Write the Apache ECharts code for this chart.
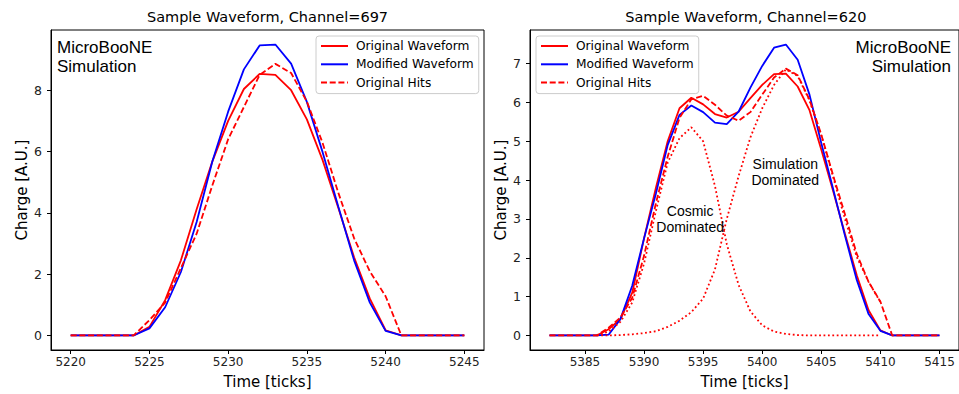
<!DOCTYPE html>
<html><head><meta charset="utf-8">
<script src="https://cdn.jsdelivr.net/npm/echarts@6/dist/echarts.min.js"></script>
<style>html,body{margin:0;padding:0;background:#fff}#c{width:959px;height:394px}</style>
</head><body><div id="c"></div>
<script>
// ---- data ----
const leftTime = [5220,5221,5222,5223,5224,5225,5226,5227,5228,5229,5230,5231,5232,5233,5234,5235,5236,5237,5238,5239,5240,5241,5242,5243,5244,5245];
const leftOriginal = [0,0,0,0,0,0.28,1.15,2.45,4.12,5.68,7.0,8.04,8.53,8.5,8.0,7.05,5.72,4.16,2.55,1.2,0.17,0,0,0,0,0];
const leftModified = [0,0,0,0,0,0.23,0.92,2.07,3.7,5.68,7.3,8.68,9.46,9.49,8.87,7.62,5.98,4.2,2.45,1.07,0.15,0,0,0,0,0];
const leftHits     = [0,0,0,0,0,0.5,1.07,2.2,3.32,4.9,6.4,7.45,8.5,8.86,8.56,7.63,6.28,4.65,3.17,2.09,1.28,0,0,0,0,0];
const leftXTicks = [5220,5225,5230,5235,5240,5245];
const leftYTicks = [0,2,4,6,8];

const rightTime = [5382,5383,5384,5385,5386,5387,5388,5389,5390,5391,5392,5393,5394,5395,5396,5397,5398,5399,5400,5401,5402,5403,5404,5405,5406,5407,5408,5409,5410,5411,5412,5413,5414,5415];
const rightOriginal = [0,0,0,0,0,0.16,0.42,1.1,2.5,3.8,5.0,5.85,6.12,5.95,5.7,5.61,5.76,6.11,6.45,6.73,6.74,6.41,5.8,4.78,3.72,2.62,1.55,0.65,0.13,0,0,0,0,0];
const rightModified = [0,0,0,0,0,0.02,0.42,1.28,2.5,3.65,4.9,5.68,5.92,5.75,5.48,5.44,5.76,6.38,6.94,7.41,7.49,7.1,6.2,4.95,3.77,2.57,1.43,0.55,0.12,0,0,0,0,0];
const rightHits     = [0,0,0,0,0,0.2,0.46,0.97,2.05,3.4,4.6,5.6,6.08,6.17,5.94,5.66,5.53,5.75,6.2,6.64,6.87,6.7,6.07,5.17,4.12,3.12,2.1,1.38,0.87,0,0,0,0,0];
const compTime = [5386,5387,5388,5389,5390,5391,5392,5393,5394,5395,5396,5397,5398,5399,5400,5401,5402,5403,5404,5405,5406,5407,5408,5409,5410];
const cosmicComp = [0,0.1,0.35,0.85,1.85,3.2,4.45,5.08,5.36,5.0,3.85,2.35,1.3,0.62,0.26,0.1,0.04,0.01,0,0,0,0,0,0,0];
const simComp    = [0,0,0.01,0.03,0.06,0.11,0.22,0.38,0.6,0.95,1.7,3.0,4.1,5.1,5.85,6.45,6.85,6.68,6.05,5.15,4.08,3.0,2.02,1.38,0.86];
const rightXTicks = [5385,5390,5395,5400,5405,5410,5415];
const rightYTicks = [0,1,2,3,4,5,6,7];

const legendNames = ['Original Waveform','Modified Waveform','Original Hits'];
const titles = ['Sample Waveform, Channel=697','Sample Waveform, Channel=620'];

// ---- chart ----
const FONT = 'DejaVu Sans';
const ARIAL = 'Liberation Sans';
const RED = '#ff0000', BLUE = '#0000ff';
const LW = 1.8;
function pairs(xs, ys){ return xs.map((x,i)=>[x, ys[i]]); }
const plain = v => String(v);

function xAx(gi, min, max, ticks){
  return {type:'value', gridIndex:gi, min, max,
    name:'Time [ticks]', nameLocation:'middle', nameGap:24,
    nameTextStyle:{fontFamily:FONT, fontSize:15, color:'#000'},
    axisLine:{show:true, onZero:false, lineStyle:{color:'#000', width:1}},
    axisTick:{show:true, inside:false, length:4, lineStyle:{color:'#000', width:1}, customValues:ticks},
    axisLabel:{show:true, margin:6, fontFamily:FONT, fontSize:12, color:'#222', customValues:ticks, formatter:plain},
    splitLine:{show:false}};
}
function yAx(gi, min, max, ticks){
  return {type:'value', gridIndex:gi, min, max,
    name:'Charge [A.U.]', nameLocation:'middle', nameGap:21.5, nameRotate:90,
    nameTextStyle:{fontFamily:FONT, fontSize:15, color:'#000'},
    axisLine:{show:true, onZero:false, lineStyle:{color:'#000', width:1}},
    axisTick:{show:true, inside:false, length:4, lineStyle:{color:'#000', width:1}, customValues:ticks},
    axisLabel:{show:true, margin:9, fontFamily:FONT, fontSize:12.5, color:'#222', customValues:ticks, formatter:plain},
    splitLine:{show:false}};
}
function line(name, gi, xs, ys, color, type, extra){
  return Object.assign({type:'line', name, xAxisIndex:gi, yAxisIndex:gi, data:pairs(xs, ys),
    symbol:'none', showSymbol:false, animation:false, clip:true,
    lineStyle:{color, width:LW, type}, itemStyle:{color}}, extra||{});
}
function legend(left){
  return {orient:'vertical', left, top:36, data:legendNames, selectedMode:false,
    itemWidth:27, itemHeight:14, itemGap:6.3, padding:[4,5,5,4],
    itemStyle:{color:'rgba(0,0,0,0)', borderColor:'rgba(0,0,0,0)', borderWidth:0},
    backgroundColor:'rgba(255,255,255,0.85)', borderColor:'#cccccc', borderWidth:1, borderRadius:3,
    textStyle:{fontFamily:FONT, fontSize:12.2, color:'#000', padding:[0,0,0,3]}};
}
function note(text, coord){
  return {symbol:'circle', symbolSize:1, silent:true, itemStyle:{color:'rgba(0,0,0,0)'},
    label:{show:true, position:'inside', formatter:text, fontFamily:ARIAL, fontSize:14, lineHeight:16, color:'#000', align:'center', verticalAlign:'middle'},
    data:[{coord}]};
}
const DASH = [6,2.7], DOT = [1.8,2.6];

const chart = echarts.init(document.getElementById('c'), null, {renderer:'svg', width:959, height:394});
chart.setOption({
  animation:false,
  backgroundColor:'#fff',
  title:[
    {text:titles[0], left:267.5, top:9, textAlign:'center', padding:0, textStyle:{fontFamily:FONT, fontSize:14.5, fontWeight:'normal', color:'#000'}},
    {text:titles[1], left:745.8, top:9, textAlign:'center', padding:0, textStyle:{fontFamily:FONT, fontSize:14.5, fontWeight:'normal', color:'#000'}}
  ],
  legend:[legend(316), legend(536)],
  grid:[
    {left:51, top:30, width:433, height:322, show:true, borderColor:'#000', borderWidth:1, backgroundColor:'transparent'},
    {left:530, top:30, width:431.6, height:322, show:true, borderColor:'#000', borderWidth:1, backgroundColor:'transparent'}
  ],
  xAxis:[xAx(0, 5218.75, 5246.25, leftXTicks), xAx(1, 5380.35, 5416.65, rightXTicks)],
  yAxis:[yAx(0, -0.4745, 9.9645, leftYTicks), yAx(1, -0.3745, 7.8645, rightYTicks)],
  graphic:[
    {type:'text', x:57, y:38.5, silent:true, style:{text:'MicroBooNE\nSimulation', fontFamily:ARIAL, fontSize:17, lineHeight:18.5, fill:'#000', align:'left', verticalAlign:'top'}},
    {type:'text', x:951, y:38.5, silent:true, style:{text:'MicroBooNE\nSimulation', fontFamily:ARIAL, fontSize:17, lineHeight:18.5, fill:'#000', align:'right', verticalAlign:'top'}}
  ],
  series:[
    line('Original Waveform', 0, leftTime, leftOriginal, RED, 'solid'),
    line('Modified Waveform', 0, leftTime, leftModified, BLUE, 'solid'),
    line('Original Hits', 0, leftTime, leftHits, RED, DASH),
    line('Original Waveform', 1, rightTime, rightOriginal, RED, 'solid'),
    line('Modified Waveform', 1, rightTime, rightModified, BLUE, 'solid'),
    line('Original Hits', 1, rightTime, rightHits, RED, DASH),
    line('Cosmic Component', 1, compTime, cosmicComp, RED, DOT, {markPoint:note('Cosmic\nDominated', [5393.9, 2.99])}),
    line('Simulation Component', 1, compTime, simComp, RED, DOT, {markPoint:note('Simulation\nDominated', [5401.95, 4.22])})
  ]
});
</script>
</body></html>
